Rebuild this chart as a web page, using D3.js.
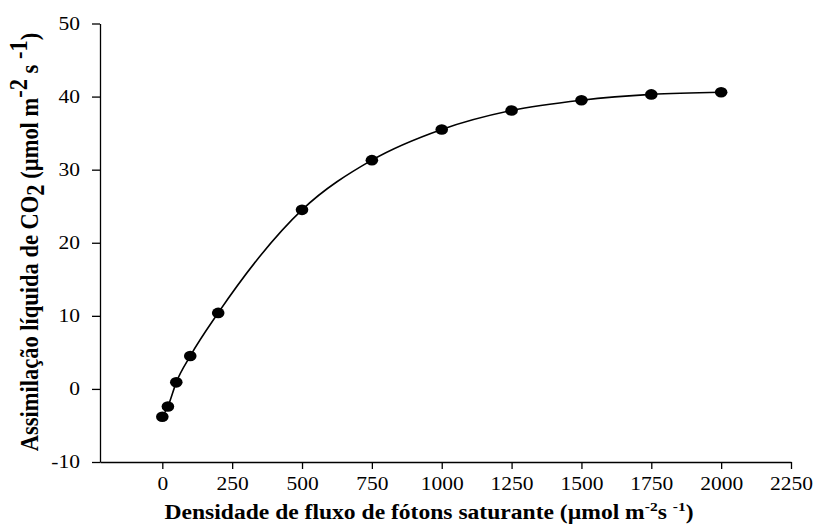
<!DOCTYPE html>
<html>
<head>
<meta charset="utf-8">
<script src="https://cdn.jsdelivr.net/npm/d3@7"></script>
<style>
  html, body { margin: 0; padding: 0; background: #fff; }
  svg { display: block; font-family: "Liberation Serif", "Times New Roman", serif; }
  .axis path, .axis line { stroke: #000; stroke-width: 1.3; }
  .axis text { font-family: "Liberation Serif", "Times New Roman", serif; font-size: 18.7px; fill: #000; }
</style>
</head>
<body>
<svg id="chart" width="816" height="526"></svg>
<script>
// Light response of net CO2 assimilation
const ppfd = [0, 20, 50, 100, 200, 500, 750, 1000, 1250, 1500, 1750, 2000];
const assimilation = [-3.8, -2.4, 0.9, 4.5, 10.4, 24.5, 31.3, 35.5, 38.1, 39.5, 40.3, 40.6];
const xTicks = [0, 250, 500, 750, 1000, 1250, 1500, 1750, 2000, 2250];
const yTicks = [-10, 0, 10, 20, 30, 40, 50];

// the figure is drawn slightly wide: glyphs and markers get a horizontal stretch
const stretch = 1.15;

const svg = d3.select("#chart");
const plotLeft = 100, plotRight = 791, plotTop = 23.5, plotBottom = 462;

const x = d3.scaleLinear().domain([-223, 2250]).range([plotLeft, plotRight]);
const y = d3.scaleLinear().domain([-10, 50]).range([plotBottom, plotTop]);

// Axes (plain hyphen for negative labels)
svg.append("g")
  .attr("class", "axis")
  .attr("transform", `translate(0,${plotBottom})`)
  .call(d3.axisBottom(x).tickValues(xTicks).tickSize(7).tickSizeOuter(0).tickPadding(8).tickFormat(d => String(d)))
  .selectAll("text")
  .attr("transform", `scale(${stretch},1)`);

const yTickSize = 8, yTickPad = 12, yLabelEdge = -(yTickSize + yTickPad);
svg.append("g")
  .attr("class", "axis")
  .attr("transform", `translate(${plotLeft},0)`)
  .call(d3.axisLeft(y).tickValues(yTicks).tickSize(yTickSize).tickSizeOuter(0).tickPadding(yTickPad).tickFormat(d => String(d)))
  .selectAll("text")
  .attr("transform", `translate(${yLabelEdge},0) scale(${stretch},1) translate(${-yLabelEdge},0)`);

// Fitted curve through the measurements
const pts = ppfd.map((v, i) => [v, assimilation[i]]);
const line = d3.line()
  .x(d => x(d[0]))
  .y(d => y(d[1]))
  .curve(d3.curveMonotoneX);

svg.append("path")
  .datum(pts)
  .attr("d", line)
  .attr("fill", "none")
  .attr("stroke", "#000")
  .attr("stroke-width", 1.6);

svg.append("g")
  .selectAll("ellipse")
  .data(pts)
  .join("ellipse")
  .attr("cx", d => x(d[0]))
  .attr("cy", d => y(d[1]))
  .attr("rx", 6.3)
  .attr("ry", 5.3)
  .attr("fill", "#000");

// X axis title
const xt = svg.append("text")
  .attr("transform", `translate(429,519) scale(${stretch},1)`)
  .attr("text-anchor", "middle")
  .attr("font-weight", "bold")
  .attr("font-size", 20.5);
xt.append("tspan").text("Densidade de fluxo de fótons saturante (µmol m");
xt.append("tspan").attr("font-size", 13.5).attr("dy", -8).text("-2");
xt.append("tspan").attr("dy", 8).text("s ");
xt.append("tspan").attr("font-size", 13.5).attr("dy", -8).text("-1");
xt.append("tspan").attr("dy", 8).text(")");

// Y axis title
const yt = svg.append("text")
  .attr("transform", `translate(38,242) scale(${stretch},1) rotate(-90)`)
  .attr("text-anchor", "middle")
  .attr("font-weight", "bold")
  .attr("font-size", 22.5);
yt.append("tspan").text("Assimilação líquida de CO");
yt.append("tspan").attr("dy", 5).text("2");
yt.append("tspan").attr("dy", -5).text(" (µmol m");
yt.append("tspan").attr("dy", -10).text("-2");
yt.append("tspan").attr("dy", 10).text(" s");
yt.append("tspan").attr("dy", -10).text(" -1");
yt.append("tspan").attr("dy", 10).text(")");
</script>
</body>
</html>
